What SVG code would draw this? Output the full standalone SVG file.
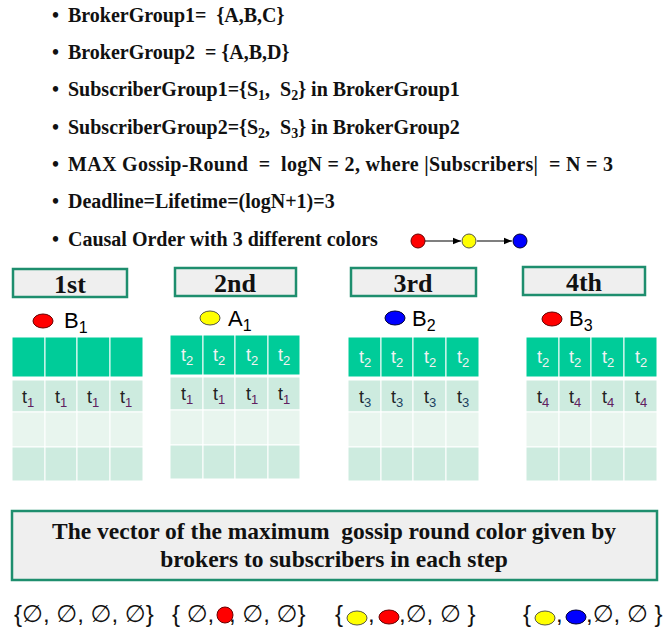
<svg xmlns="http://www.w3.org/2000/svg" width="667" height="634" viewBox="0 0 667 634">
  <defs>
    <style>
      text { white-space: pre; }
      .bul { font-family: "Liberation Serif", "Times New Roman", serif; font-weight: bold; font-size: 20px; fill: #111; }
      .cap { font-family: "Liberation Serif", "Times New Roman", serif; font-weight: bold; font-size: 23.5px; fill: #111; text-anchor: middle; }
      .hdr { fill: #EFEFEF; stroke: #1E8E6E; stroke-width: 2.5; }
      .hdrt { font-family: "Liberation Serif", "Times New Roman", serif; font-weight: bold; font-size: 26px; fill: #111; text-anchor: middle; }
      .lbl { font-family: "Liberation Sans", Arial, sans-serif; font-size: 22px; fill: #000; }
      .c0 { fill: #00CC99; stroke: #FFFFFF; stroke-width: 1; }
      .c1 { fill: #CDEBDF; stroke: #FFFFFF; stroke-width: 1; }
      .c2 { fill: #E8F5EE; stroke: #FFFFFF; stroke-width: 1; }
      .tl { font-family: "Liberation Sans", Arial, sans-serif; font-size: 18px; text-anchor: middle; fill: #222; }
      .tw { font-family: "Liberation Sans", Arial, sans-serif; font-size: 18px; text-anchor: middle; fill: #F2F2F2; }
      .vec { font-family: "Liberation Sans", "DejaVu Sans", Arial, sans-serif; font-size: 24px; fill: #111; }
      .red { fill: #FF0000; stroke: #600; stroke-width: 1; }
      .yel { fill: #FFFF00; stroke: #554; stroke-width: 1; }
      .blu { fill: #0000FF; stroke: #003; stroke-width: 1; }
    </style>
    <marker id="arr" viewBox="0 0 10 10" refX="10" refY="5" markerWidth="7" markerHeight="7" orient="auto">
      <path d="M0,1 L10,5 L0,9 z" fill="#000"/>
    </marker>
  </defs>

  <rect width="667" height="634" fill="#FFFFFF"/>

  <!-- bullet list -->
  <g id="bullets" class="bul">
    <text x="52" y="22">•</text>
    <text x="68" y="22">BrokerGroup1=  {A,B,C}</text>
    <text x="52" y="59">•</text>
    <text x="68" y="59">BrokerGroup2  = {A,B,D}</text>
    <text x="52" y="96">•</text>
    <text x="68" y="96">SubscriberGroup1={S<tspan font-size="14" dy="4">1</tspan><tspan dy="-4">,  S</tspan><tspan font-size="14" dy="4">2</tspan><tspan dy="-4">} in BrokerGroup1</tspan></text>
    <text x="52" y="134">•</text>
    <text x="68" y="134">SubscriberGroup2={S<tspan font-size="14" dy="4">2</tspan><tspan dy="-4">,  S</tspan><tspan font-size="14" dy="4">3</tspan><tspan dy="-4">} in BrokerGroup2</tspan></text>
    <text x="52" y="171">•</text>
    <text x="68" y="171" textLength="545" lengthAdjust="spacing">MAX Gossip-Round  =  logN = 2, where |Subscribers|  = N = 3</text>
    <text x="52" y="208">•</text>
    <text x="68" y="208">Deadline=Lifetime=(logN+1)=3</text>
    <text x="52" y="246">•</text>
    <text x="68" y="246">Causal Order with 3 different colors</text>
  </g>

  <!-- causal order chain -->
  <g id="connectors" stroke="#000" stroke-width="1.2" fill="none">
    <line x1="425" y1="241" x2="461" y2="241" marker-end="url(#arr)"/>
    <line x1="477" y1="241" x2="512" y2="241" marker-end="url(#arr)"/>
  </g>
  <g id="chain-red"><circle class="red" cx="418" cy="241" r="7"/></g>
  <g id="chain-yellow"><circle class="yel" cx="469" cy="241" r="7"/></g>
  <g id="chain-blue"><circle class="blu" cx="520" cy="241" r="7"/></g>

  <!-- step 1 -->
  <g id="step1">
    <rect class="hdr" x="13" y="269" width="114" height="28"/>
    <text class="hdrt" x="70" y="293">1st</text>
    <ellipse class="red" cx="43" cy="321" rx="10" ry="7"/>
    <text class="lbl" x="64" y="328">B<tspan font-size="16" dy="5">1</tspan></text>
    <rect class="c0" x="12" y="337" width="33" height="40"/>
    <rect class="c0" x="45" y="337" width="32" height="40"/>
    <rect class="c0" x="77" y="337" width="33" height="40"/>
    <rect class="c0" x="110" y="337" width="33" height="40"/>
    <rect class="c1" x="12" y="380" width="33" height="32"/>
    <rect class="c1" x="45" y="380" width="32" height="32"/>
    <rect class="c1" x="77" y="380" width="33" height="32"/>
    <rect class="c1" x="110" y="380" width="33" height="32"/>
    <rect class="c2" x="12" y="412" width="33" height="35"/>
    <rect class="c2" x="45" y="412" width="32" height="35"/>
    <rect class="c2" x="77" y="412" width="33" height="35"/>
    <rect class="c2" x="110" y="412" width="33" height="35"/>
    <rect class="c1" x="12" y="447" width="33" height="34"/>
    <rect class="c1" x="45" y="447" width="32" height="34"/>
    <rect class="c1" x="77" y="447" width="33" height="34"/>
    <rect class="c1" x="110" y="447" width="33" height="34"/>
    <text class="tl" x="28" y="403">t<tspan font-size="13" dy="4" fill="#602060">1</tspan></text>
    <text class="tl" x="61" y="403">t<tspan font-size="13" dy="4" fill="#602060">1</tspan></text>
    <text class="tl" x="93" y="403">t<tspan font-size="13" dy="4" fill="#602060">1</tspan></text>
    <text class="tl" x="126" y="403">t<tspan font-size="13" dy="4" fill="#602060">1</tspan></text>
  </g>

  <!-- step 2 -->
  <g id="step2">
    <rect class="hdr" x="175" y="268" width="121" height="28"/>
    <text class="hdrt" x="235" y="292">2nd</text>
    <ellipse class="yel" cx="210" cy="318" rx="10" ry="7"/>
    <text class="lbl" x="228" y="326">A<tspan font-size="16" dy="5">1</tspan></text>
    <rect class="c0" x="170" y="335" width="33" height="40"/>
    <rect class="c0" x="203" y="335" width="32" height="40"/>
    <rect class="c0" x="235" y="335" width="33" height="40"/>
    <rect class="c0" x="268" y="335" width="32" height="40"/>
    <rect class="c1" x="170" y="377" width="33" height="33"/>
    <rect class="c1" x="203" y="377" width="32" height="33"/>
    <rect class="c1" x="235" y="377" width="33" height="33"/>
    <rect class="c1" x="268" y="377" width="32" height="33"/>
    <rect class="c2" x="170" y="410" width="33" height="35"/>
    <rect class="c2" x="203" y="410" width="32" height="35"/>
    <rect class="c2" x="235" y="410" width="33" height="35"/>
    <rect class="c2" x="268" y="410" width="32" height="35"/>
    <rect class="c1" x="170" y="445" width="33" height="34"/>
    <rect class="c1" x="203" y="445" width="32" height="34"/>
    <rect class="c1" x="235" y="445" width="33" height="34"/>
    <rect class="c1" x="268" y="445" width="32" height="34"/>
    <text class="tw" x="187" y="361">t<tspan font-size="13" dy="4">2</tspan></text>
    <text class="tw" x="219" y="361">t<tspan font-size="13" dy="4">2</tspan></text>
    <text class="tw" x="252" y="361">t<tspan font-size="13" dy="4">2</tspan></text>
    <text class="tw" x="284" y="361">t<tspan font-size="13" dy="4">2</tspan></text>
    <text class="tl" x="187" y="400">t<tspan font-size="13" dy="4" fill="#602060">1</tspan></text>
    <text class="tl" x="219" y="400">t<tspan font-size="13" dy="4" fill="#602060">1</tspan></text>
    <text class="tl" x="252" y="400">t<tspan font-size="13" dy="4" fill="#602060">1</tspan></text>
    <text class="tl" x="284" y="400">t<tspan font-size="13" dy="4" fill="#602060">1</tspan></text>
  </g>

  <!-- step 3 -->
  <g id="step3">
    <rect class="hdr" x="351" y="268" width="125" height="28"/>
    <text class="hdrt" x="413" y="292">3rd</text>
    <ellipse class="blu" cx="395" cy="318" rx="10" ry="7"/>
    <text class="lbl" x="412" y="326">B<tspan font-size="16" dy="5">2</tspan></text>
    <rect class="c0" x="348" y="337" width="33" height="40"/>
    <rect class="c0" x="381" y="337" width="32" height="40"/>
    <rect class="c0" x="413" y="337" width="33" height="40"/>
    <rect class="c0" x="446" y="337" width="33" height="40"/>
    <rect class="c1" x="348" y="380" width="33" height="32"/>
    <rect class="c1" x="381" y="380" width="32" height="32"/>
    <rect class="c1" x="413" y="380" width="33" height="32"/>
    <rect class="c1" x="446" y="380" width="33" height="32"/>
    <rect class="c2" x="348" y="412" width="33" height="35"/>
    <rect class="c2" x="381" y="412" width="32" height="35"/>
    <rect class="c2" x="413" y="412" width="33" height="35"/>
    <rect class="c2" x="446" y="412" width="33" height="35"/>
    <rect class="c1" x="348" y="447" width="33" height="34"/>
    <rect class="c1" x="381" y="447" width="32" height="34"/>
    <rect class="c1" x="413" y="447" width="33" height="34"/>
    <rect class="c1" x="446" y="447" width="33" height="34"/>
    <text class="tw" x="365" y="363">t<tspan font-size="13" dy="4">2</tspan></text>
    <text class="tw" x="397" y="363">t<tspan font-size="13" dy="4">2</tspan></text>
    <text class="tw" x="430" y="363">t<tspan font-size="13" dy="4">2</tspan></text>
    <text class="tw" x="463" y="363">t<tspan font-size="13" dy="4">2</tspan></text>
    <text class="tl" x="365" y="403">t<tspan font-size="13" dy="4" fill="#204060">3</tspan></text>
    <text class="tl" x="397" y="403">t<tspan font-size="13" dy="4" fill="#204060">3</tspan></text>
    <text class="tl" x="430" y="403">t<tspan font-size="13" dy="4" fill="#204060">3</tspan></text>
    <text class="tl" x="463" y="403">t<tspan font-size="13" dy="4" fill="#204060">3</tspan></text>
  </g>

  <!-- step 4 -->
  <g id="step4">
    <rect class="hdr" x="523" y="267" width="122" height="28"/>
    <text class="hdrt" x="584" y="291">4th</text>
    <ellipse class="red" cx="552" cy="319" rx="10" ry="7"/>
    <text class="lbl" x="569" y="326">B<tspan font-size="16" dy="5">3</tspan></text>
    <rect class="c0" x="526" y="337" width="33" height="40"/>
    <rect class="c0" x="559" y="337" width="32" height="40"/>
    <rect class="c0" x="591" y="337" width="33" height="40"/>
    <rect class="c0" x="624" y="337" width="33" height="40"/>
    <rect class="c1" x="526" y="380" width="33" height="32"/>
    <rect class="c1" x="559" y="380" width="32" height="32"/>
    <rect class="c1" x="591" y="380" width="33" height="32"/>
    <rect class="c1" x="624" y="380" width="33" height="32"/>
    <rect class="c2" x="526" y="412" width="33" height="35"/>
    <rect class="c2" x="559" y="412" width="32" height="35"/>
    <rect class="c2" x="591" y="412" width="33" height="35"/>
    <rect class="c2" x="624" y="412" width="33" height="35"/>
    <rect class="c1" x="526" y="447" width="33" height="34"/>
    <rect class="c1" x="559" y="447" width="32" height="34"/>
    <rect class="c1" x="591" y="447" width="33" height="34"/>
    <rect class="c1" x="624" y="447" width="33" height="34"/>
    <text class="tw" x="543" y="363">t<tspan font-size="13" dy="4">2</tspan></text>
    <text class="tw" x="575" y="363">t<tspan font-size="13" dy="4">2</tspan></text>
    <text class="tw" x="608" y="363">t<tspan font-size="13" dy="4">2</tspan></text>
    <text class="tw" x="641" y="363">t<tspan font-size="13" dy="4">2</tspan></text>
    <text class="tl" x="543" y="403">t<tspan font-size="13" dy="4" fill="#602060">4</tspan></text>
    <text class="tl" x="575" y="403">t<tspan font-size="13" dy="4" fill="#602060">4</tspan></text>
    <text class="tl" x="608" y="403">t<tspan font-size="13" dy="4" fill="#602060">4</tspan></text>
    <text class="tl" x="641" y="403">t<tspan font-size="13" dy="4" fill="#602060">4</tspan></text>
  </g>

  <!-- caption box -->
  <g id="caption">
    <rect class="hdr" x="12" y="511" width="645" height="69"/>
    <text class="cap" x="334" y="539">The vector of the maximum  gossip round color given by</text>
    <text class="cap" x="334" y="567">brokers to subscribers in each step</text>
  </g>

  <!-- vectors per step -->
  <g id="vec1">
    <text class="vec" x="14" y="622">{∅, ∅, ∅, ∅}</text>
  </g>
  <g id="vec2">
    <text class="vec" x="172" y="622">{ ∅,</text>
    <text class="vec" x="229" y="622">, ∅, ∅}</text>
    <circle class="red" cx="225" cy="615" r="8"/>
  </g>
  <g id="vec3">
    <text class="vec" x="335" y="622">{</text>
    <ellipse class="yel" cx="357" cy="618" rx="10" ry="7"/>
    <text class="vec" x="368" y="622">,</text>
    <ellipse class="red" cx="389" cy="617" rx="10" ry="7"/>
    <text class="vec" x="399" y="622">,∅, ∅ }</text>
  </g>
  <g id="vec4">
    <text class="vec" x="523" y="622">{</text>
    <ellipse class="yel" cx="545" cy="618" rx="10" ry="7"/>
    <text class="vec" x="556" y="622">,</text>
    <ellipse class="blu" cx="576" cy="617" rx="10" ry="7"/>
    <text class="vec" x="586" y="622">,∅, ∅ }</text>
  </g>
</svg>
